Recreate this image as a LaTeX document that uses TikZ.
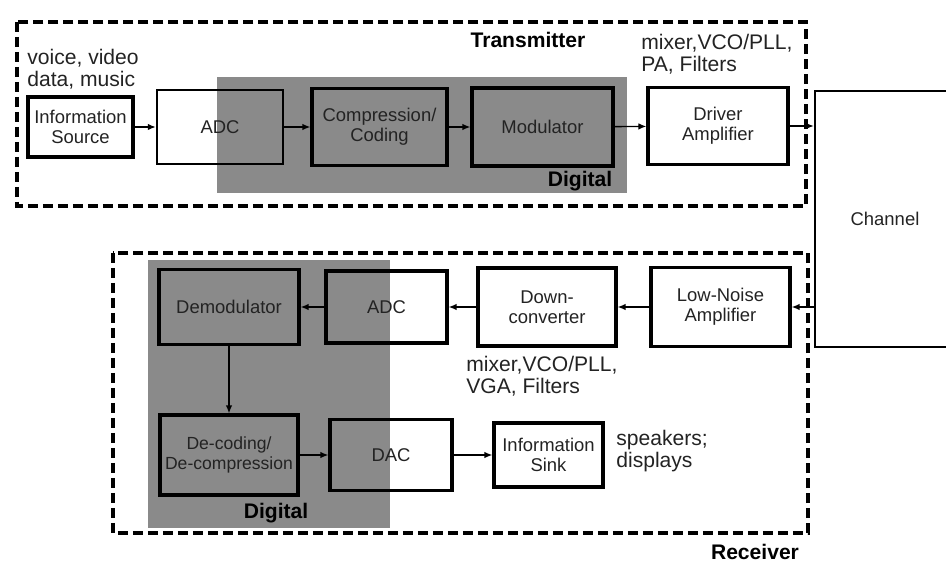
\documentclass[tikz,border=0pt]{standalone}
\usepackage{fontspec}
\setmainfont{Liberation Sans}
\usetikzlibrary{arrows.meta,positioning}
\definecolor{digitalgray}{RGB}{138,138,138}
\definecolor{inkgray}{RGB}{35,35,35}
\tikzset{
  blockbox/.style={draw, line width=1.8pt, align=center, inner sep=1pt,
    font=\fontsize{10.5}{11.5}\selectfont, text=inkgray},
  notetext/.style={align=left, anchor=west, inner sep=0pt,
    font=\fontsize{12}{12.5}\selectfont, text=inkgray},
  headtext/.style={inner sep=0pt, font=\fontsize{12}{13}\selectfont\bfseries},
  sectionbox/.style={draw, line width=1.9pt, dash pattern=on 0.2cm off 0.1cm},
  sigarrow/.style={-{Latex[length=1.6mm,width=1.3mm]}, line width=0.8pt}
}

\begin{document}
\begin{tikzpicture}[x=0.02cm, y=-0.02cm]
  \useasboundingbox (0,0) rectangle (946,564);
  \clip (0,0) rectangle (946,564);

  \fill[digitalgray] (217,77) rectangle (627,193);
  \fill[digitalgray] (148,260) rectangle (390,528);
  \draw[sectionbox] (17,22) rectangle (806,206);
  \draw[sectionbox] (113,253) rectangle (808,533);

  \node[headtext] (txlabel) at (528,40) {Transmitter};
  \node[headtext] (rxlabel) at (755,552) {Receiver};
  \node[headtext] (txdig) at (580,181) {Digital};
  \node[headtext] (rxdig) at (276,513) {Digital};

  \node[notetext] (srcnote) at (27,69) {voice, video\\data, music};
  \node[notetext] (drvnote) at (641,54) {mixer,VCO/PLL,\\PA, Filters};
  \node[notetext] (downnote) at (466,376) {mixer,VCO/PLL,\\VGA, Filters};
  \node[notetext] (sinknote) at (616,451) {speakers;\\displays};

  \node[blockbox, minimum width=2.1cm, minimum height=1.2cm] (src)
    at (80.5,127) {Information\\Source};
  \node[blockbox, line width=1.4pt, minimum width=2.52cm, minimum height=1.48cm] (adctx)
    at (220,127) {ADC};
  \node[blockbox, minimum width=2.7cm, minimum height=1.54cm] (comp)
    at (379.5,127) {Compression/\\Coding};
  \node[blockbox, minimum width=2.82cm, minimum height=1.56cm] (mod)
    at (542.5,127) {Modulator};
  \node[blockbox, minimum width=2.8cm, minimum height=1.54cm] (drv)
    at (718,126) {Driver\\Amplifier};
  \node[blockbox, line width=1.3pt, minimum width=2.8cm, minimum height=5.12cm] (chan)
    at (885,219) {Channel};

  \node[blockbox, minimum width=2.78cm, minimum height=1.58cm] (lna)
    at (720.5,307) {Low-Noise\\Amplifier};
  \node[blockbox, minimum width=2.76cm, minimum height=1.56cm] (down)
    at (547,307) {Down-\\converter};
  \node[blockbox, minimum width=2.42cm, minimum height=1.44cm] (adcrx)
    at (386.5,307) {ADC};
  \node[blockbox, minimum width=2.8cm, minimum height=1.5cm] (demod)
    at (229,307) {Demodulator};
  \node[blockbox, font=\fontsize{10}{11.5}\selectfont,
    minimum width=2.76cm, minimum height=1.6cm] (decode)
    at (229,455) {De-coding/\\De-compression};
  \node[blockbox, minimum width=2.44cm, minimum height=1.42cm] (dac)
    at (391,455) {DAC};
  \node[blockbox, minimum width=2.18cm, minimum height=1.28cm] (sink)
    at (548.5,455) {Information\\Sink};

  \draw[sigarrow] (src) -- (adctx);
  \draw[sigarrow] (adctx) -- (comp);
  \draw[sigarrow] (comp) -- (mod);
  \draw[sigarrow] (mod) -- (drv);
  \draw[sigarrow] (drv) -- (drv -| chan.west);
  \draw[sigarrow] (chan.west |- lna) -- (lna);
  \draw[sigarrow] (lna) -- (down);
  \draw[sigarrow] (down) -- (adcrx);
  \draw[sigarrow] (adcrx) -- (demod);
  \draw[sigarrow] (demod) -- (decode);
  \draw[sigarrow] (decode) -- (dac);
  \draw[sigarrow] (dac) -- (sink);
\end{tikzpicture}
\end{document}
